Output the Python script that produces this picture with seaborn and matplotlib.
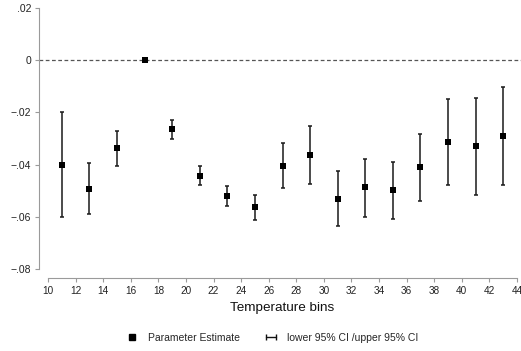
import matplotlib
matplotlib.use("Agg")
import matplotlib.pyplot as plt
from matplotlib.lines import Line2D
from matplotlib.legend_handler import HandlerLine2D
import seaborn as sns
import pandas as pd

bins = [11, 13, 15, 17, 19, 21, 23, 25, 27, 29, 31, 33, 35, 37, 39, 41, 43]
estimate = [-0.0400, -0.0492, -0.0338, 0.0000, -0.0264, -0.0445, -0.0522, -0.0564,
            -0.0406, -0.0364, -0.0531, -0.0487, -0.0499, -0.0410, -0.0314, -0.0330, -0.0291]
ci_upper = [-0.0200, -0.0392, -0.0272, 0.0000, -0.0228, -0.0406, -0.0482, -0.0517,
            -0.0319, -0.0251, -0.0426, -0.0377, -0.0390, -0.0281, -0.0147, -0.0145, -0.0104]
ci_lower = [-0.0600, -0.0590, -0.0404, 0.0000, -0.0300, -0.0480, -0.0558, -0.0613,
            -0.0490, -0.0474, -0.0635, -0.0599, -0.0609, -0.0538, -0.0480, -0.0515, -0.0478]
xticks = list(range(10, 45, 2))
yticks = [-0.08, -0.06, -0.04, -0.02, 0.0, 0.02]
ytick_labels = ["\u2212.08", "\u2212.06", "\u2212.04", "\u2212.02", "0", ".02"]

df = pd.DataFrame({"bin": bins, "est": estimate, "lo": ci_lower, "hi": ci_upper})

sns.set_style("ticks")
plt.rcParams["font.family"] = ["Liberation Sans", "DejaVu Sans"]


class RightMarkerHandler(HandlerLine2D):
    """Legend handler that puts a single marker near the right end of the handle."""
    def get_xdata(self, legend, xdescent, ydescent, width, height, fontsize):
        xdata = [-xdescent, -xdescent + width]
        xdata_marker = [-xdescent + width - 1.5]
        return xdata, xdata_marker


W, H = 521, 351
fig = plt.figure(figsize=(W / 100, H / 100), dpi=100)
ax = fig.add_axes([48 / W, 1 - 269 / H, (517 - 48) / W, (269 - 8) / H])

ax.set_xlim(10, 44)
ax.set_ylim(-0.08, 0.02)

# reference line at zero
ax.axhline(0, xmin=-9 / 469, xmax=(521 - 48) / 469, color="#555555", lw=0.9,
           ls=(0, (3, 2)), clip_on=False, zorder=1)

# confidence intervals
ax.errorbar(df["bin"], df["est"],
            yerr=[df["est"] - df["lo"], df["hi"] - df["est"]],
            fmt="none", ecolor="#1a1a1a", elinewidth=1.1, capsize=1.7,
            capthick=1.1, zorder=2)

sns.scatterplot(data=df, x="bin", y="est", marker="s", color="black", s=22,
                edgecolor="black", linewidth=0, ax=ax, zorder=3, legend=False)

# axes styling (Stata-like)
for side in ["top", "right"]:
    ax.spines[side].set_visible(False)
ax.spines["left"].set_position(("outward", 6.5))
ax.spines["bottom"].set_position(("outward", 6.5))
ax.spines["left"].set_bounds(-0.08, 0.02)
ax.spines["bottom"].set_bounds(10, 44)
for side in ["left", "bottom"]:
    ax.spines[side].set_color("#9a9a9a")
    ax.spines[side].set_linewidth(0.8)

ax.set_xticks(xticks)
ax.set_xticklabels([str(t) for t in xticks])
ax.set_yticks(yticks)
ax.set_yticklabels(ytick_labels)
ax.tick_params(axis="both", colors="#9a9a9a", length=3.2, width=0.8,
               labelcolor="#222222", pad=2.5)
ax.tick_params(axis="x", labelsize=7.2)
ax.tick_params(axis="y", labelsize=7.5)

ax.set_xlabel("Temperature bins", fontsize=9.7, color="#111111", labelpad=4.5)
ax.set_ylabel("")

h_est = Line2D([], [], color="black", marker="s", linestyle="none", markersize=4.5)
h_ci = Line2D([], [], color="#111111", marker="|", markersize=4.5, lw=1.0,
              markeredgewidth=1.0)
fig.legend([h_est, h_ci], ["Parameter Estimate", "lower 95% CI /upper 95% CI"],
           loc="center", bbox_to_anchor=(271 / W, 1 - 338 / H), ncol=2, frameon=False,
           fontsize=7.5, handlelength=1.55, handletextpad=0.75, columnspacing=2.2,
           handler_map={h_ci: HandlerLine2D(numpoints=2),
                        h_est: RightMarkerHandler()})

fig.savefig("out.png", dpi=100, facecolor="white")
